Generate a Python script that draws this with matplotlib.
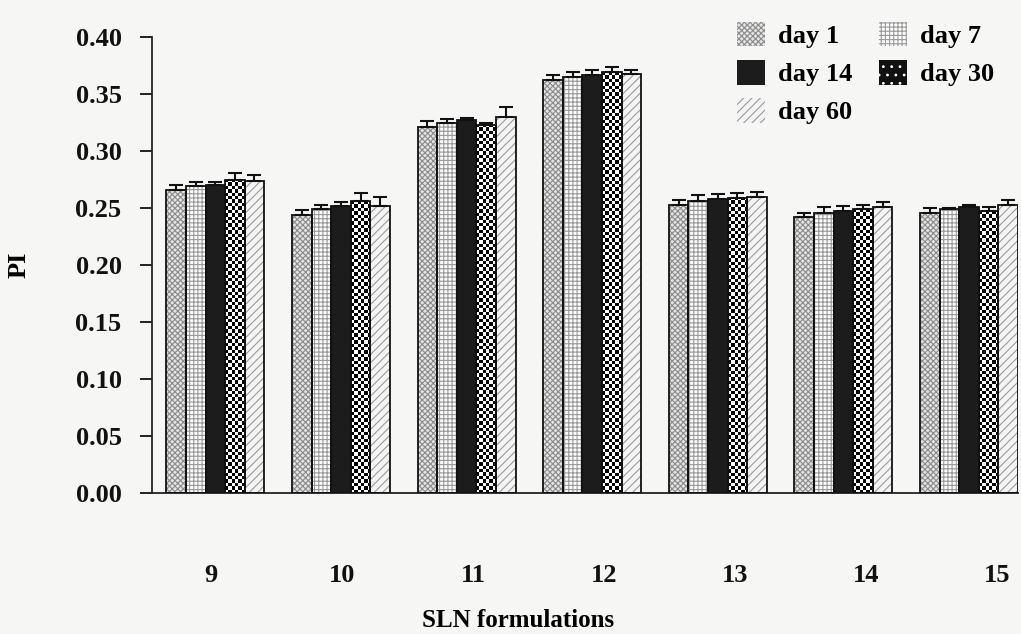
import numpy as np
import matplotlib
matplotlib.use("Agg")
import matplotlib.pyplot as plt
from matplotlib.patches import Patch

formulations = ["9", "10", "11", "12", "13", "14", "15"]
series_names = ["day 1", "day 7", "day 14", "day 30", "day 60"]

day1 = [0.266, 0.244, 0.321, 0.362, 0.253, 0.242, 0.246]
day7 = [0.269, 0.249, 0.325, 0.365, 0.256, 0.246, 0.249]
day14 = [0.270, 0.252, 0.327, 0.367, 0.258, 0.247, 0.251]
day30 = [0.275, 0.256, 0.323, 0.369, 0.259, 0.249, 0.247]
day60 = [0.274, 0.252, 0.330, 0.368, 0.260, 0.251, 0.253]

err1 = [0.004, 0.004, 0.005, 0.005, 0.004, 0.004, 0.004]
err7 = [0.004, 0.004, 0.003, 0.004, 0.005, 0.005, 0.001]
err14 = [0.003, 0.003, 0.002, 0.004, 0.004, 0.005, 0.002]
err30 = [0.006, 0.007, 0.002, 0.005, 0.004, 0.004, 0.004]
err60 = [0.005, 0.008, 0.009, 0.003, 0.004, 0.004, 0.004]

values = [day1, day7, day14, day30, day60]
errors = [err1, err7, err14, err30, err60]

plt.rcParams["font.family"] = ["Liberation Serif", "DejaVu Serif"]
plt.rcParams["font.weight"] = "bold"
plt.rcParams["hatch.linewidth"] = 0.8

bg = "#f6f6f4"
fig = plt.figure(figsize=(10.21, 6.34), dpi=100, facecolor=bg)
ax = fig.add_axes([0.149, 0.2224, 0.848, 0.7192])
ax.set_facecolor(bg)

n_groups = len(formulations)
x = np.arange(n_groups)
width = 0.156

# fill style per series: (face, hatch, hatch colour)
styles = [
    ("#e4e4e4", "xxxxxx", "#8a8a8a"),
    ("#fbfbfb", "++++", "#9a9a9a"),
    ("#1c1c1c", None, "#1c1c1c"),
    ("#111111", None, "#111111"),
    ("#f4f4f4", "////", "#9a9a9a"),
]


def checker_texture(ax, bar, cell_px=3.4):
    """Fill a bar with a black/white checkerboard clipped to the bar."""
    x0, y0 = bar.get_x(), bar.get_y()
    w, h = bar.get_width(), bar.get_height()
    p0 = ax.transData.transform((x0, y0))
    p1 = ax.transData.transform((x0 + w, y0 + h))
    nx = max(1, int(round((p1[0] - p0[0]) / cell_px)))
    ny = max(1, int(round((p1[1] - p0[1]) / cell_px)))
    ii, jj = np.indices((ny, nx))
    board = ((ii + jj) % 2).astype(float)
    im = ax.imshow(board, cmap="gray", vmin=0, vmax=1, interpolation="nearest",
                   extent=(x0, x0 + w, y0, y0 + h), aspect="auto", zorder=2)
    im.set_clip_path(bar)


ax.set_xlim(-0.503, 6.39)
ax.set_ylim(0, 0.40)

for k, (vals, errs) in enumerate(zip(values, errors)):
    pos = x + (k - 2) * width
    face, hatch, hcol = styles[k]
    bars = ax.bar(pos, vals, width, color=face, hatch=hatch, edgecolor=hcol,
                  linewidth=0, zorder=2)
    if k == 3:
        for b in bars:
            b.set_facecolor("none")
            checker_texture(ax, b)
    ax.bar(pos, vals, width, fill=False, edgecolor="#111111", linewidth=1.3, zorder=3)
    ax.errorbar(pos, vals, yerr=[np.zeros(n_groups), errs], fmt="none",
                ecolor="#111111", elinewidth=1.5, capsize=5, capthick=1.5, zorder=4)

ax.set_xlim(-0.503, 6.39)
ax.set_ylim(0, 0.40)

# axes styling
for side in ("top", "right"):
    ax.spines[side].set_visible(False)
ax.spines["left"].set_linewidth(1.3)
ax.spines["bottom"].set_linewidth(1.3)
ax.spines["left"].set_color("#222222")
ax.spines["bottom"].set_color("#222222")

ax.set_yticks(np.arange(0, 0.401, 0.05))
ax.set_yticklabels([f"{v:.2f}" for v in np.arange(0, 0.401, 0.05)])
ax.tick_params(axis="y", length=9, width=1.3, pad=13, labelsize=19, colors="#111111")

label_step = 1.043
ax.set_xticks(-0.032 + label_step * x)
ax.set_xticklabels(formulations)
ax.tick_params(axis="x", length=0, pad=51, labelsize=19, colors="#111111")

ax.set_xlabel("SLN formulations", fontsize=18, fontweight="bold")
ax.xaxis.set_label_coords(0.423, -0.255)
ax.set_ylabel("PI", fontsize=19, fontweight="bold")
ax.yaxis.set_label_coords(-0.14, 0.5)

# legend laid out row by row in two columns
handles = []
for k, name in enumerate(series_names):
    face, hatch, hcol = styles[k]
    if k == 3:
        handles.append(Patch(facecolor="#111111", edgecolor="white", hatch="..",
                             label=name))
    else:
        handles.append(Patch(facecolor=face, edgecolor=hcol, hatch=hatch, label=name))
order = [0, 2, 4, 1, 3]
leg = ax.legend([handles[i] for i in order], [series_names[i] for i in order],
                ncol=2, frameon=False, fontsize=19, handlelength=1.05,
                handleheight=1.05, handletextpad=0.5, columnspacing=1.0,
                labelspacing=0.45, loc="upper right", bbox_to_anchor=(1.0, 1.085))
for h in leg.legend_handles:
    h.set_linewidth(0)

fig.savefig("out.png", dpi=100, facecolor=bg)
